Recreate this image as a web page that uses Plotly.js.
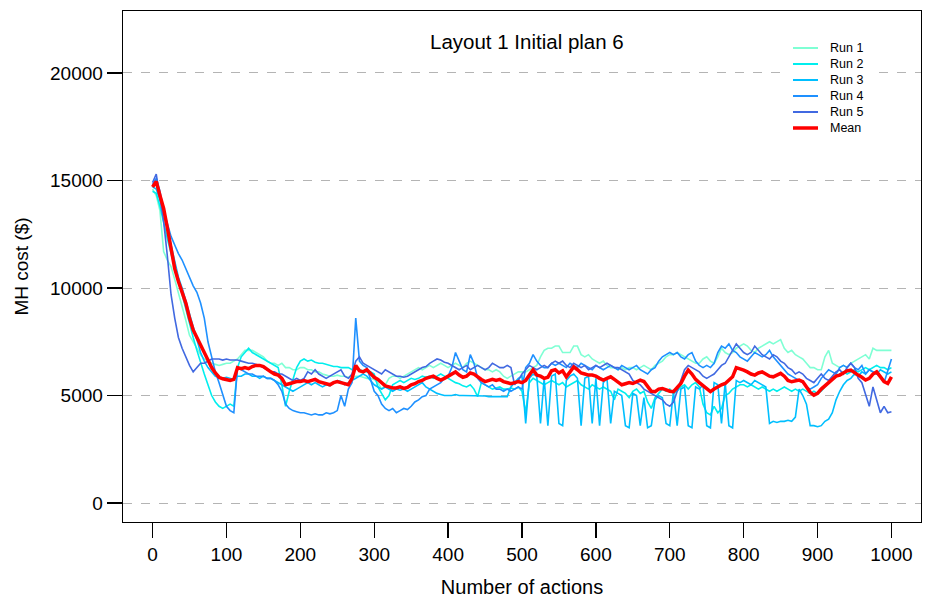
<!DOCTYPE html>
<html>
<head>
<meta charset="utf-8">
<script src="https://cdn.plot.ly/plotly-3.0.1.min.js"></script>
<style>html,body{margin:0;padding:0;background:#fff;}#chart{width:926px;height:598px;}</style>
</head>
<body>
<div id="chart"></div>
<script>
// Number of actions (sampled every 5 actions)
const actions = [];
for (let a = 0; a <= 1000; a += 5) actions.push(a);

const run1 = [
14600,14300,13600,11700,11300,11000,10400,9800,9200,8500,7800,
7500,7200,6900,6700,6600,6500,6450,6400,6450,6500,
6500,6600,6700,6900,7100,7100,7100,7000,6900,6800,
6600,6500,6500,6400,6500,6300,6300,6200,6200,6300,
6300,6200,6200,6100,6100,6000,5950,5900,5900,5950,
5900,5900,5850,5800,5900,5900,5850,5800,5800,5750,
5600,5300,5500,5800,5900,5900,5800,5900,6000,6100,
6200,6300,6200,6300,6400,6300,6400,6500,6400,6300,
6400,6500,6400,6300,6500,6600,6500,6400,6300,6200,
6200,6100,6200,6100,5900,5800,5900,6000,6100,6100,
6100,6200,6300,6400,6800,7100,7200,7200,7300,7300,
7000,7000,7000,7300,7300,6900,6800,6900,6700,6600,
6500,6600,6400,6300,6300,6200,6300,6200,6300,6300,
6200,6300,6400,6300,6200,6400,6500,6600,6800,6900,
6900,7000,6900,6800,6700,6600,6500,6500,6700,6800,
6600,6500,6800,7200,7000,6900,7000,7200,7300,7400,
7300,7100,7000,7200,7300,7400,7500,7400,7500,7600,
7200,7000,7100,6900,6800,6700,6500,6300,6300,6200,
6200,6800,7100,6500,6400,6300,6400,6300,6500,6600,
6700,6800,6900,6700,7200,7100,7100,7100,7100,7100];

const run2 = [
14500,14400,13800,13000,12300,11600,10900,10300,9700,9000,8300,
7700,7100,6500,6000,5500,5000,4700,4500,4400,4500,
4600,4500,6300,6800,7000,7200,7000,6900,6800,6700,
6600,6500,6400,6300,5500,4500,5200,5800,6300,6600,
6700,6600,6650,6550,6500,6500,6450,6400,6350,6350,
6300,6300,6300,6200,6250,6200,6150,6100,6100,6000,
5400,5100,4800,5000,5500,5600,5700,5600,5700,5800,
5750,5800,5900,5850,5900,5800,5900,6000,5900,5800,
5700,5600,5550,5450,5400,5500,5300,4950,5600,5500,
5400,5300,5350,5400,5300,5300,5350,5300,5400,5200,
4200,5600,5800,5700,5600,5500,5600,5700,5600,5500,
5600,5400,5500,5600,5700,5500,5400,5300,5500,5400,
5300,5400,5300,5200,4800,5300,5200,5100,4900,5200,
5300,5100,5200,4700,4400,4900,5100,5300,5200,5300,
5100,5200,5400,5500,5300,5500,5600,5400,4600,4200,
4100,4500,4200,4400,5000,5100,5300,5400,5500,5500,
5400,5500,5400,5300,5400,5300,5200,5300,5200,5300,
5400,5300,5200,5300,5200,5300,5200,5100,5200,5100,
5200,5400,5600,5800,5900,6000,6100,6000,6100,6200,
6100,6200,6300,6200,6300,6400,6300,6300,6200,6300];

const run3 = [
14700,14600,14100,13500,12800,12000,11200,10500,10000,9400,8700,
8100,7500,7000,6600,6300,6100,5900,5850,5800,5850,
5800,5750,5900,5900,6000,6000,5900,5900,5800,5900,
5800,5800,5700,5600,5500,5400,5300,5200,5300,5400,
5500,5600,5500,5600,5500,5400,5500,5450,5600,5700,
5650,5500,5600,5700,5800,5900,6000,5900,5700,5500,
5400,5300,5400,5300,5200,5300,5250,5300,5200,5300,
5400,5500,5600,5400,5300,5200,5100,5050,5000,5000,
5000,5050,5000,5000,5000,4980,5000,5000,5000,4980,
4950,4950,4950,4950,4950,4950,5400,5600,5800,5900,
3700,5800,6000,5900,3700,5800,3600,5900,6000,3700,
3600,5700,5900,6000,5800,3600,5800,5900,3700,5800,
3600,5600,5800,3700,5200,5100,5000,3600,3500,5100,
5000,3600,4900,3500,3600,4800,5000,4900,3700,3600,
5200,3600,5300,5400,3600,3500,5400,5300,5500,3600,
3500,5600,5500,3700,5600,3600,3500,5700,5600,5700,
5600,5500,5700,5600,5500,5400,3700,3800,3750,3800,
3800,3850,3800,4000,5300,5000,4600,3600,3600,3550,
3600,3800,3900,4200,4800,5200,5500,5700,5800,6000,
5900,6100,6000,6200,6100,6000,6200,6100,6000,6100];

const run4 = [
14800,15100,14500,13600,13000,12400,12000,11600,11300,10900,10500,
10100,9800,9300,8600,7500,6800,6100,5600,5000,4500,
4300,4200,6300,6200,6100,6000,6000,5900,5900,5900,
5800,5800,5700,5500,5200,4600,4400,4300,4250,4200,
4200,4150,4100,4150,4100,4100,4200,4150,4200,4300,
5000,4500,5300,5600,8600,6600,6400,6300,5800,5200,
5000,4600,4400,4300,4400,4200,4300,4400,4350,4500,
4700,4800,4950,5000,5300,5400,5500,5600,5800,5900,
6300,7000,6600,6200,6100,6900,6500,5800,5600,5500,
5400,5500,5300,5300,5200,5300,5200,5300,5400,5300,
6300,6500,6900,6600,6400,6300,6300,6500,6400,6500,
6400,6300,6500,6400,6300,6500,6400,6300,6200,6400,
6300,6200,6300,6400,6300,6200,6400,6300,6200,6300,
6400,6200,6100,6000,6200,6300,6600,6800,6900,7000,
6900,7000,6800,6700,6900,7000,6600,6400,6300,6400,
6300,6500,7000,7300,7200,7400,7100,7000,6800,6700,
6600,6800,7000,6900,6800,6900,7100,6800,6600,6400,
6200,6000,5900,5800,5700,5600,5400,5300,5400,5500,
5800,6000,6200,6100,6000,6300,6400,6300,6500,6300,
6200,6400,6000,6200,6100,6000,5900,5600,6100,6700];

const run5 = [
14900,15300,14200,13100,11500,9700,8600,7700,7200,6800,6400,
6100,6300,6500,6500,6600,6700,6700,6700,6650,6700,
6650,6650,6650,6600,6550,6500,6500,6450,6400,6300,
6200,6100,6100,6000,6000,5900,5800,5700,5800,5700,
5800,6100,6000,6200,6000,5900,5800,5900,6000,6100,
6200,5900,5800,6000,6600,6800,6500,6400,6300,6200,
6100,6000,6200,6100,6000,5900,5900,5850,5900,6000,
6100,6200,6300,6350,6500,6600,6700,6650,6550,6500,
6400,6300,6200,6300,6400,6200,6300,6400,6300,6200,
6300,6500,6400,6300,6300,6400,6300,5500,5700,6000,
6200,6400,6300,6200,6300,6400,6300,6500,6600,6500,
6600,6400,6300,6500,6400,6300,6400,6200,6300,6400,
6300,6400,6500,6400,6300,6300,6200,6100,6000,5700,
5600,5500,5300,5200,5100,5000,4900,4800,4600,4500,
4700,5200,5800,6200,6400,6300,6200,6100,5900,5800,
5900,6000,6200,6400,6500,6800,7100,7400,7200,7000,
6900,7000,7300,7100,6900,6800,6700,6900,6800,6600,
6500,6300,6200,6000,6100,6000,5800,5700,5600,5800,
6000,5800,5700,5900,6100,6200,6000,6300,6500,6300,
5800,5600,5000,4500,5400,4800,4200,4500,4200,4250];

const meanCost = [
14700,14950,14300,13700,12800,11800,10900,10300,9800,9300,8600,
8050,7700,7300,7000,6650,6300,6050,5850,5780,5750,
5700,5750,6300,6250,6300,6250,6350,6400,6400,6350,
6200,6100,6000,5950,5800,5500,5550,5600,5650,5650,
5700,5650,5700,5750,5650,5600,5550,5500,5600,5650,
5600,5550,5500,5800,6400,6150,6100,6200,6000,5850,
5750,5600,5450,5400,5350,5350,5400,5330,5380,5500,
5550,5650,5700,5800,5850,5900,5800,5720,5800,5900,
6000,6100,5950,5850,5900,6050,6000,5850,5750,5650,
5700,5750,5700,5750,5650,5600,5550,5600,5650,5600,
5700,5950,6200,5950,5900,5800,5850,6150,6200,6050,
6150,5870,6100,6330,6200,6050,6000,5950,5950,5900,
5800,5720,5800,5870,5750,5600,5500,5550,5600,5560,
5650,5720,5650,5400,5200,5180,5300,5330,5250,5200,
5180,5400,5560,5900,6180,6000,5750,5600,5450,5300,
5180,5300,5410,5500,5560,5700,5870,6300,6250,6180,
6100,6000,5950,6050,6100,6000,5900,5870,5950,6030,
5900,5700,5640,5700,5720,5650,5410,5150,5020,5100,
5300,5450,5600,5800,5900,5950,6030,6150,6180,6050,
5950,5850,5720,5800,6000,6100,5900,5650,5560,5870];

const seriesNames = ["Run 1","Run 2","Run 3","Run 4","Run 5","Mean"];
const xTicks = [0,100,200,300,400,500,600,700,800,900,1000];
const yTicks = [0,5000,10000,15000,20000];

const runs = [run1, run2, run3, run4, run5];
const colors = ["#7FFFD4","#00EEEE","#00BFFF","#1E90FF","#4169E1","#FF0000"];
const widths = [1.6,1.6,1.6,1.6,1.6,3.5];

const traces = runs.map((r, i) => ({
  x: actions, y: r, type: "scatter", mode: "lines", name: seriesNames[i],
  line: {color: colors[i], width: widths[i]}, hoverinfo: "skip", showlegend: false
}));
traces.push({
  x: actions, y: meanCost, type: "scatter", mode: "lines", name: seriesNames[5],
  line: {color: colors[5], width: widths[5]}, hoverinfo: "skip", showlegend: false
});

// Plot area in pixels: left 123, right 921, top 11, bottom 522
const PL = 123, PR = 921, PT = 11, PB = 522;
const px = v => (v - PL) / (PR - PL);
const py = v => (PB - v) / (PB - PT);

// Hand-made legend (R-style compact spacing)
const shapes = [{
  type: "rect", xref: "paper", yref: "paper", layer: "above",
  x0: px(782), x1: px(872), y0: py(140), y1: py(36),
  fillcolor: "#ffffff", line: {width: 0}
}];
const annotations = [];
seriesNames.forEach((nm, i) => {
  const yy = 48 + i * 16;
  shapes.push({
    type: "line", xref: "paper", yref: "paper", layer: "above",
    x0: px(793), x1: px(818), y0: py(yy), y1: py(yy),
    line: {color: colors[i], width: i === 5 ? 3.5 : 2}
  });
  annotations.push({
    xref: "paper", yref: "paper", x: px(828), y: py(yy), xanchor: "left", yanchor: "middle",
    text: nm, showarrow: false, font: {family: "Liberation Sans, Arial, sans-serif", size: 12.5, color: "#000"}
  });
});

const font = "Liberation Sans, Arial, sans-serif";
const layout = {
  width: 926, height: 598,
  margin: {l: 123, r: 5, t: 11, b: 76},
  paper_bgcolor: "#ffffff", plot_bgcolor: "#ffffff",
  font: {family: font, color: "#000"},
  title: {text: "Layout 1 Initial plan 6", font: {family: font, size: 20.5, color: "#000"},
          x: 0.569, xanchor: "center", xref: "container", y: 0.93, yanchor: "middle", yref: "container"},
  xaxis: {
    range: [-40, 1040], tickvals: xTicks, ticktext: xTicks.map(String),
    ticks: "outside", ticklen: 15, tickwidth: 1.3, tickcolor: "#000",
    showline: true, mirror: true, linecolor: "#000", linewidth: 1.3,
    showgrid: false, zeroline: false,
    tickfont: {family: font, size: 19, color: "#000"},
    title: {text: "Number of actions", font: {family: font, size: 20, color: "#000"}, standoff: 16}
  },
  yaxis: {
    range: [-880, 22880], tickvals: yTicks, ticktext: yTicks.map(String),
    ticks: "outside", ticklen: 15, tickwidth: 1.3, tickcolor: "#000",
    showline: true, mirror: true, linecolor: "#000", linewidth: 1.3,
    showgrid: true, gridcolor: "#b4b4b4", griddash: "dash", gridwidth: 1,
    zeroline: false,
    tickfont: {family: font, size: 19, color: "#000"},
    title: {text: "MH cost ($)", font: {family: font, size: 19, color: "#000"}, standoff: 16}
  },
  showlegend: false,
  shapes: shapes,
  annotations: annotations,
  hovermode: false
};

Plotly.newPlot("chart", traces, layout, {displayModeBar: false, staticPlot: true});
</script>
</body>
</html>
